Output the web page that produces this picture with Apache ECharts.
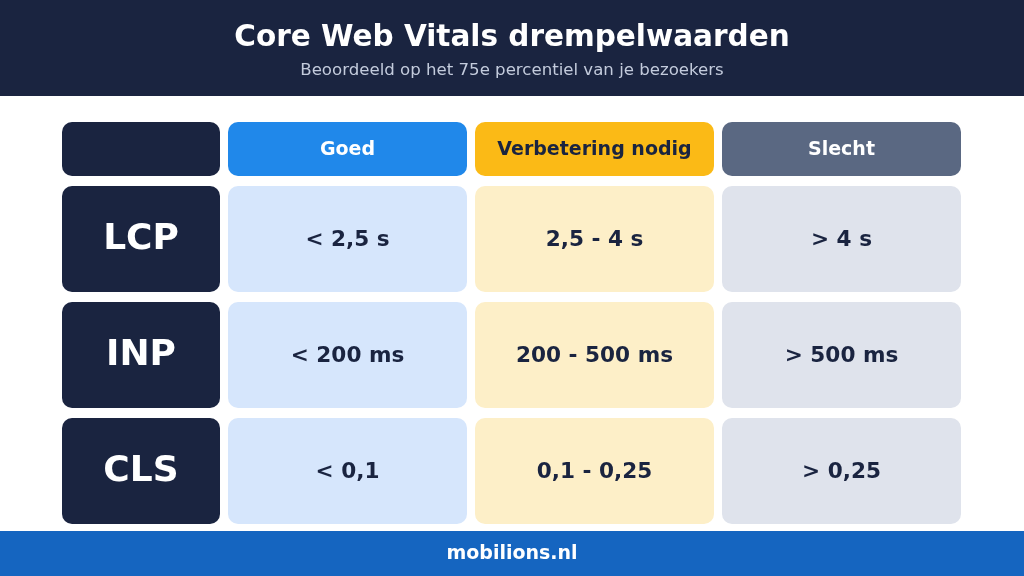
<!DOCTYPE html>
<html>
<head>
<meta charset="utf-8">
<script src="https://cdn.jsdelivr.net/npm/echarts@6/dist/echarts.min.js"></script>
<style>html,body{margin:0;padding:0;background:#fff}#chart{width:1024px;height:576px}</style>
</head>
<body>
<div id="chart"></div>
<script>
var titleText = 'Core Web Vitals drempelwaarden';
var subtitleText = 'Beoordeeld op het 75e percentiel van je bezoekers';
var footerText = 'mobilions.nl';
var columns = ['Goed', 'Verbetering nodig', 'Slecht'];
var metrics = ['LCP', 'INP', 'CLS'];
var goodValues = ['< 2,5 s', '< 200 ms', '< 0,1'];
var needsValues = ['2,5 - 4 s', '200 - 500 ms', '0,1 - 0,25'];
var poorValues = ['> 4 s', '> 500 ms', '> 0,25'];

// layout
var colX = [62, 228, 475, 722], colW = [158, 239, 239, 239];
var rowY = [122, 186, 302, 418], rowH = [54, 106, 106, 106];
var headFill = ['#1a2440', '#2088ea', '#fbba16', '#5a6882'];
var headText = ['#ffffff', '#ffffff', '#1a2440', '#ffffff'];
var cellFill = ['#1a2440', '#d6e6fc', '#fdefc8', '#dfe3ec'];

var cells = [];
cells.push([0, 0, '']);
columns.forEach(function (c, i) { cells.push([i + 1, 0, c]); });
metrics.forEach(function (m, r) {
  cells.push([0, r + 1, m]);
  cells.push([1, r + 1, goodValues[r]]);
  cells.push([2, r + 1, needsValues[r]]);
  cells.push([3, r + 1, poorValues[r]]);
});

var chart = echarts.init(document.getElementById('chart'));
chart.setOption({
  animation: false,
  textStyle: { fontFamily: 'DejaVu Sans' },
  graphic: [
    { type: 'rect', shape: { x: 0, y: 0, width: 1024, height: 96 }, style: { fill: '#1a2440' } },
    { type: 'rect', shape: { x: 0, y: 531, width: 1024, height: 45 }, style: { fill: '#1565c0' } },
    { type: 'text', x: 512, y: 38, style: { text: titleText, fill: '#fff', font: 'bold 29.5px DejaVu Sans', align: 'center', verticalAlign: 'middle' } },
    { type: 'text', x: 512, y: 71, style: { text: subtitleText, fill: '#c3cbdc', font: '16.6px DejaVu Sans', align: 'center', verticalAlign: 'middle' } },
    { type: 'text', x: 512, y: 554, style: { text: footerText, fill: '#fff', font: 'bold 19px DejaVu Sans', align: 'center', verticalAlign: 'middle' } }
  ],
  series: [{
    type: 'custom',
    coordinateSystem: 'none',
    data: cells,
    renderItem: function (params, api) {
      var c = api.value(0), r = api.value(1);
      var d = cells[params.dataIndex];
      var head = r === 0;
      var fill = head ? headFill[c] : cellFill[c];
      var tc = head ? headText[c] : (c === 0 ? '#ffffff' : '#1a2440');
      var size = head ? 19 : (c === 0 ? 36 : 21.6);
      var x = colX[c], y = rowY[r], w = colW[c], h = rowH[r];
      return {
        type: 'group',
        children: [
          { type: 'rect', shape: { x: x, y: y, width: w, height: h, r: 10 }, style: { fill: fill } },
          { type: 'text', x: x + w / 2, y: y + h / 2 + 1, style: { text: d[2], fill: tc, font: 'bold ' + size + 'px DejaVu Sans', align: 'center', verticalAlign: 'middle' } }
        ]
      };
    }
  }]
});
</script>
</body>
</html>
